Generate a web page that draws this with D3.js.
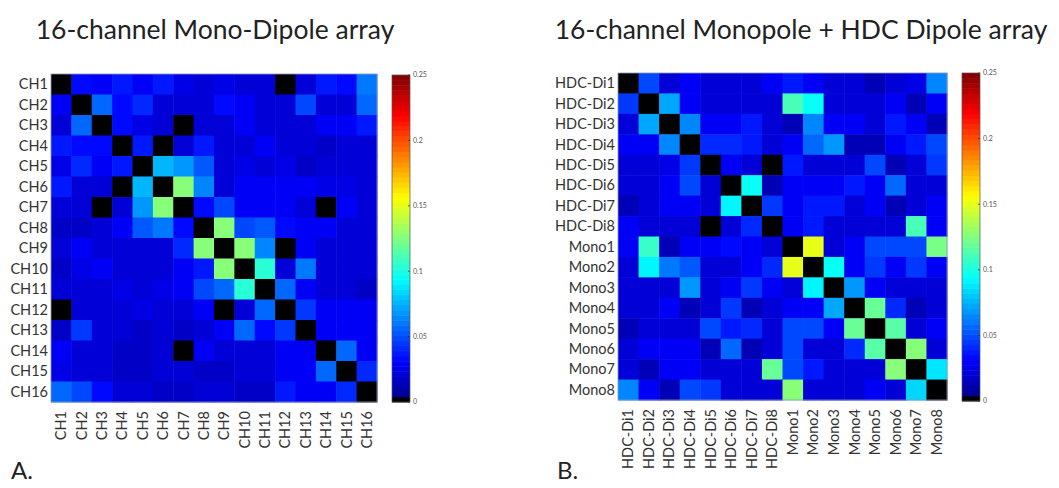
<!DOCTYPE html>
<html>
<head>
<meta charset="utf-8">
<script src="https://cdn.jsdelivr.net/npm/d3@7"></script>
<style>
  body { margin: 0; background: #fff; }
  text { font-family: Lato, "Open Sans", sans-serif; }
</style>
</head>
<body>
<div id="chart"></div>
<script>
const width = 1059;
const height = 488;

// Channel labels
const chLabels = d3.range(1, 17).map(i => "CH" + i);
const hdcLabels = d3.range(1, 9).map(i => "HDC-Di" + i).concat(d3.range(1, 9).map(i => "Mono" + i));

// Colorbar ticks
const cbTicks = [0, 0.05, 0.1, 0.15, 0.2, 0.25];

// Crosstalk values, panel A (rows = CH1..CH16)
const valuesA = [
  [0, .032, .028, .036, .030, .038, .025, .020, .026, .020, .022, 0, .020, .036, .032, .062],
  [.030, 0, .055, .032, .040, .022, .020, .020, .035, .028, .020, .022, .050, .022, .022, .055],
  [.022, .055, 0, .032, .024, .022, 0, .020, .022, .030, .020, .022, .022, .028, .028, .036],
  [.036, .035, .032, 0, .038, 0, .022, .036, .022, .022, .028, .022, .022, .018, .020, .020],
  [.024, .040, .030, .038, 0, .075, .068, .052, .022, .026, .020, .026, .018, .020, .020, .020],
  [.038, .022, .020, 0, .075, 0, .125, .064, .020, .028, .028, .028, .028, .026, .026, .022],
  [.022, .020, 0, .022, .068, .125, 0, .034, .048, .030, .028, .028, .020, 0, .028, .022],
  [.016, .016, .020, .030, .052, .060, .032, 0, .125, .048, .052, .032, .030, .028, .020, .020],
  [.022, .028, .020, .020, .020, .020, .042, .125, 0, .125, .064, 0, .030, .022, .022, .022],
  [.016, .026, .030, .020, .022, .020, .028, .038, .125, 0, .105, .020, .060, .020, .020, .020],
  [.022, .020, .020, .026, .022, .026, .028, .050, .058, .105, 0, .055, .030, .020, .020, .016],
  [0, .022, .022, .022, .026, .022, .022, .030, 0, .022, .055, 0, .045, .030, .030, .030],
  [.016, .045, .022, .020, .018, .022, .018, .020, .030, .058, .032, .045, 0, .030, .030, .030],
  [.030, .020, .022, .018, .018, .020, 0, .030, .022, .022, .022, .028, .028, 0, .055, .028],
  [.024, .020, .022, .018, .018, .020, .022, .016, .016, .020, .020, .028, .028, .055, 0, .042],
  [.058, .048, .032, .020, .020, .018, .018, .020, .020, .018, .018, .036, .030, .030, .042, 0]
];

// Crosstalk values, panel B (rows = HDC-Di1..8, Mono1..8)
const valuesB = [
  [0, .047, .020, .030, .020, .020, .020, .030, .037, .030, .020, .020, .014, .020, .026, .066],
  [.044, 0, .072, .030, .020, .020, .020, .020, .112, .094, .020, .020, .020, .030, .014, .030],
  [.020, .072, 0, .066, .030, .030, .037, .020, .014, .066, .030, .030, .020, .037, .030, .014],
  [.030, .030, .066, 0, .040, .040, .037, .020, .030, .056, .068, .014, .014, .030, .037, .047],
  [.020, .020, .026, .044, 0, .030, .020, 0, .037, .020, .020, .020, .050, .014, .020, .044],
  [.020, .020, .030, .047, .020, 0, .094, .014, .030, .030, .030, .037, .030, .056, .020, .020],
  [.014, .020, .030, .030, .020, .092, 0, .044, .030, .037, .037, .020, .030, .014, .020, .030],
  [.030, .020, .020, .020, 0, .020, .040, 0, .030, .037, .020, .020, .020, .020, .112, .030],
  [.030, .108, .014, .030, .030, .032, .030, .020, 0, .150, .020, .030, .050, .050, .050, .122],
  [.020, .092, .060, .052, .020, .020, .030, .040, .150, 0, .094, .030, .044, .030, .044, .030],
  [.020, .020, .020, .068, .020, .030, .044, .030, .020, .092, 0, .068, .030, .020, .020, .020],
  [.020, .020, .030, .014, .020, .044, .014, .020, .030, .030, .072, 0, .119, .040, .014, .020],
  [.014, .020, .020, .020, .050, .037, .040, .020, .050, .047, .030, .119, 0, .115, .020, .030],
  [.020, .030, .030, .030, .014, .056, .014, .020, .050, .020, .020, .040, .115, 0, .125, .020],
  [.020, .014, .030, .030, .020, .020, .020, .119, .050, .037, .020, .020, .020, .125, 0, .088],
  [.066, .030, .014, .047, .044, .020, .020, .020, .125, .020, .020, .020, .030, .020, .085, 0]
];

// MATLAB jet, 64 levels, lowest level black
const clamp = v => Math.max(0, Math.min(1, v));
const jet = t => d3.rgb(
  255 * clamp(1.5 - Math.abs(4 * t - 3)),
  255 * clamp(1.5 - Math.abs(4 * t - 2)),
  255 * clamp(1.5 - Math.abs(4 * t - 1))
).toString();
const levels = d3.range(64).map(i => i === 0 ? "#000" : jet((i + 0.5) / 64));
const color = d3.scaleQuantize().domain([0, 0.25]).range(levels);

const svg = d3.select("#chart")
  .append("svg")
  .attr("width", width)
  .attr("height", height);

function drawPanel(p) {
  const g = svg.append("g");

  const x = d3.scaleBand().domain(p.labels).range([p.x0, p.x1]);
  const y = d3.scaleBand().domain(p.labels).range([p.y0, p.y1]);

  const cells = [];
  p.values.forEach((row, i) => row.forEach((v, j) => cells.push({ r: p.labels[i], c: p.labels[j], v })));

  g.selectAll("rect.cell")
    .data(cells)
    .join("rect")
    .attr("class", "cell")
    .attr("x", d => x(d.c))
    .attr("y", d => y(d.r))
    .attr("width", x.bandwidth() + 0.5)
    .attr("height", y.bandwidth() + 0.5)
    .attr("fill", d => color(d.v));

  g.append("rect")
    .attr("x", p.x0).attr("y", p.y0)
    .attr("width", p.x1 - p.x0).attr("height", p.y1 - p.y0)
    .attr("fill", "none").attr("stroke", "#8c94b8").attr("stroke-width", 0.8);

  // row labels
  g.selectAll("text.row")
    .data(p.labels)
    .join("text")
    .attr("class", "row")
    .attr("x", p.x0 - 3)
    .attr("y", d => y(d) + y.bandwidth() / 2)
    .attr("dy", "0.35em")
    .attr("text-anchor", "end")
    .attr("font-size", 14.5)
    .attr("fill", "#333")
    .text(d => d);

  // column labels, rotated
  g.selectAll("text.col")
    .data(p.labels)
    .join("text")
    .attr("class", "col")
    .attr("transform", d => `translate(${x(d) + x.bandwidth() / 2},${p.y1 + 9}) rotate(-90)`)
    .attr("dy", "0.35em")
    .attr("text-anchor", "end")
    .attr("font-size", 14.5)
    .attr("fill", "#333")
    .text(d => d);

  // colorbar
  const cb = d3.scaleLinear().domain([0, 0.25]).range([p.cbY1, p.cbY0]);
  const step = (p.cbY1 - p.cbY0) / levels.length;
  g.selectAll("rect.cb")
    .data(levels)
    .join("rect")
    .attr("class", "cb")
    .attr("x", p.cbX)
    .attr("y", (d, i) => cb(0.25 * (i + 1) / levels.length))
    .attr("width", 18)
    .attr("height", step + 0.5)
    .attr("fill", d => d);

  g.append("rect")
    .attr("x", p.cbX).attr("y", p.cbY0)
    .attr("width", 18).attr("height", p.cbY1 - p.cbY0)
    .attr("fill", "none").attr("stroke", "#555").attr("stroke-width", 0.7);

  g.selectAll("line.tick")
    .data(cbTicks)
    .join("line")
    .attr("class", "tick")
    .attr("x1", p.cbX + 16).attr("x2", p.cbX + 18)
    .attr("y1", d => cb(d)).attr("y2", d => cb(d))
    .attr("stroke", "#333").attr("stroke-width", 0.7);

  g.selectAll("text.cbl")
    .data(cbTicks)
    .join("text")
    .attr("class", "cbl")
    .attr("x", p.cbX + 21)
    .attr("y", d => cb(d))
    .attr("dy", "0.35em")
    .attr("font-size", 7)
    .attr("fill", "#555")
    .text(d => d);

  svg.append("text")
    .attr("x", p.titleX)
    .attr("y", 39)
    .attr("text-anchor", "middle")
    .attr("font-size", 26.5)
    .attr("fill", "#222")
    .text(p.title);

  svg.append("text")
    .attr("x", p.tagX)
    .attr("y", 479)
    .attr("font-size", 24)
    .attr("fill", "#222")
    .text(p.tag);
}

drawPanel({
  labels: chLabels, values: valuesA,
  x0: 51, x1: 377, y0: 74, y1: 402,
  cbX: 392, cbY0: 75, cbY1: 402,
  title: "16-channel Mono-Dipole array", titleX: 215,
  tag: "A.", tagX: 11
});

drawPanel({
  labels: hdcLabels, values: valuesB,
  x0: 618, x1: 947, y0: 73, y1: 400,
  cbX: 962, cbY0: 73, cbY1: 401,
  title: "16-channel Monopole + HDC Dipole array", titleX: 801,
  tag: "B.", tagX: 557
});
</script>
</body>
</html>
